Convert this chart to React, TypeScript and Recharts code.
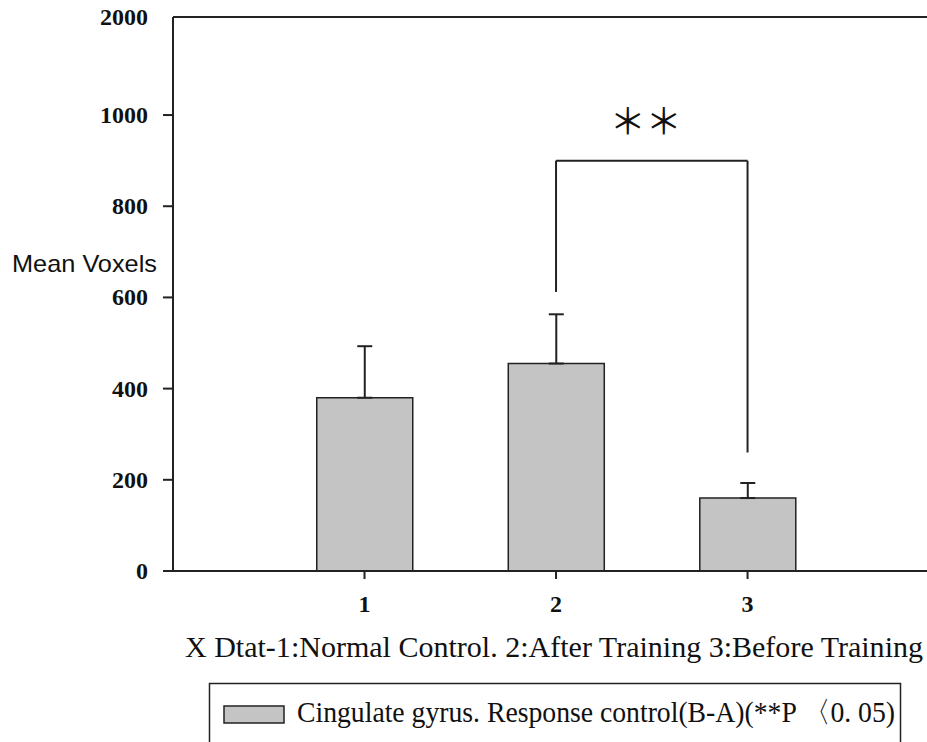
import { Bar, BarChart, ErrorBar, ReferenceLine, XAxis, YAxis } from 'recharts'

const groups = [1, 2, 3]
const meanVoxels = [380, 455, 160]
const errorUp = [113, 108, 33]
const yTicks = [0, 200, 400, 600, 800, 1000, 1215]
const yTickLabels = ['0', '200', '400', '600', '800', '1000', '2000']
const bracket = { left: 2, right: 3, top: 900, leftEnd: 612, rightEnd: 260 }
const xTitle = 'X Dtat-1:Normal  Control.  2:After  Training  3:Before  Training'
const yTitle = 'Mean Voxels'
const seriesName = 'Cingulate gyrus. Response control(B-A)(**P 〈0. 05)'

const data = groups.map((g, i) => ({ group: g, mean: meanVoxels[i], err: [0, errorUp[i]] }))

const INK = '#222'
const serif = '"Liberation Serif", "DejaVu Serif", serif'

function YTick({ x, y, payload }: any) {
  const idx = yTicks.indexOf(payload.value)
  const isTop = idx === yTicks.length - 1
  return (
    <g>
      {!isTop && <line x1={x + 15} x2={x + 25} y1={y} y2={y} stroke={INK} strokeWidth={2} />}
      <text x={x} y={y} dy={8} textAnchor="end" fontFamily={serif} fontWeight="bold" fontSize={24} fill="#111">
        {yTickLabels[idx]}
      </text>
    </g>
  )
}

export default function App() {
  return (
    <div style={{ position: 'absolute', left: 0, top: 0, width: 927, height: 742, background: '#fff' }}>
      <BarChart
        width={927}
        height={742}
        data={data}
        margin={{ top: 17, right: 0, left: 0, bottom: 111 }}
        barSize={96}
      >
        <XAxis
          dataKey="group"
          type="number"
          domain={[0, 3.937]}
          ticks={groups}
          allowDataOverflow
          height={60}
          stroke={INK}
          strokeWidth={2}
          tickSize={8}
          tickMargin={16}
          tick={{ fontFamily: serif, fontWeight: 'bold', fontSize: 24, fill: '#111' }}
        />
        <YAxis
          type="number"
          domain={[0, 1215]}
          ticks={yTicks}
          allowDataOverflow
          width={173}
          stroke={INK}
          strokeWidth={2}
          tickLine={false}
          tickSize={10}
          tickMargin={15}
          tick={<YTick />}
        />
        <ReferenceLine y={1215} stroke={INK} strokeWidth={2} ifOverflow="visible" />
        <Bar dataKey="mean" fill="#c4c4c4" stroke={INK} strokeWidth={1.5} isAnimationActive={false}>
          <ErrorBar dataKey="err" direction="y" width={7.5} stroke={INK} strokeWidth={2} isAnimationActive={false} />
        </Bar>
        <ReferenceLine
          segment={[{ x: bracket.left, y: bracket.top }, { x: bracket.right, y: bracket.top }]}
          stroke={INK}
          strokeWidth={2}
          label={{ value: '＊＊', position: 'top', offset: 26, dx: -6, fontSize: 36, fill: '#111', fontFamily: '"Noto Sans CJK SC", sans-serif' }}
        />
        <ReferenceLine
          segment={[{ x: bracket.left, y: bracket.top }, { x: bracket.left, y: bracket.leftEnd }]}
          stroke={INK}
          strokeWidth={2}
        />
        <ReferenceLine
          segment={[{ x: bracket.right, y: bracket.top }, { x: bracket.right, y: bracket.rightEnd }]}
          stroke={INK}
          strokeWidth={2}
        />
      </BarChart>
      <svg width={927} height={742} style={{ position: 'absolute', left: 0, top: 0, pointerEvents: 'none' }}>
        <text x={12} y={272} fontFamily='"Liberation Sans", Arial, sans-serif' fontSize={24} fill="#111" textLength={145} lengthAdjust="spacingAndGlyphs">
          {yTitle}
        </text>
        <text x={185} y={657} fontFamily={serif} fontSize={29} fill="#111" textLength={738} lengthAdjust="spacingAndGlyphs">
          {xTitle}
        </text>
        <path d="M209.5 742 V683.5 H900.5 V742" fill="none" stroke={INK} strokeWidth={1.5} />
        <rect x={224} y={706} width={60} height={17} fill="#c4c4c4" stroke={INK} strokeWidth={1.5} />
        <text x={297} y={722} fontFamily={serif} fontSize={29} fill="#111" textLength={598} lengthAdjust="spacingAndGlyphs">
          {seriesName}
        </text>
      </svg>
    </div>
  )
}
